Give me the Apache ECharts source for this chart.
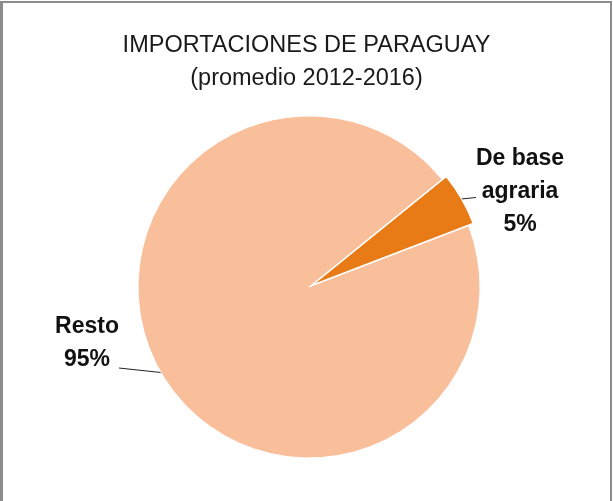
<!DOCTYPE html>
<html lang="es">
<head>
    <meta charset="UTF-8">
    <title>Importaciones de Paraguay</title>
    <script src="https://cdn.jsdelivr.net/npm/echarts@6/dist/echarts.min.js"></script>
    <style>
        body { margin: 0; background: #fff; }
        #frame {
            position: absolute;
            left: 0; top: 1px;
            width: 612px; height: 520px;
            border: 2px solid #8c8c8c;
            border-left-width: 3px;
            box-sizing: border-box;
        }
        #chart-container {
            position: absolute;
            left: 0; top: 0;
            width: 613px; height: 501px;
        }
    </style>
</head>
<body>
    <div id="frame"></div>
    <div id="chart-container"></div>

    <script>
        // datos
        var categorias = ['De base agraria', 'Resto'];
        var etiquetas = ['De base\nagraria', 'Resto'];
        var valores = [5, 95];
        var colores = ['#e97b17', '#f9be9a'];

        var myChart = echarts.init(document.getElementById('chart-container'));

        var centro = [309, 287];
        var inicio = 39;
        // porción separada: desplazada 5px según su ángulo medio
        var angMedio = (inicio - valores[0] / 100 * 360 / 2) * Math.PI / 180;
        var centroSep = [centro[0] + 5 * Math.cos(angMedio), centro[1] - 5 * Math.sin(angMedio)];

        var estiloEtiqueta = {
            show: true,
            formatter: function (p) {
                return etiquetas[p.dataIndex] + '\n' + p.percent.toFixed(0) + '%';
            },
            fontFamily: 'Liberation Sans',
            fontSize: 23,
            fontWeight: 'bold',
            color: '#111',
            lineHeight: 33,
            align: 'center'
        };

        // serie: visible = índice del trozo que dibuja
        function serie(visible, c, layout, padding) {
            return {
                type: 'pie',
                center: c,
                radius: 171,
                startAngle: inicio,
                silent: true,
                itemStyle: { borderColor: '#fff', borderWidth: 1 },
                labelLine: {
                    length: 1,
                    length2: 0,
                    lineStyle: { color: '#222', width: 1 }
                },
                labelLayout: layout,
                data: categorias.map(function (nombre, i) {
                    var ver = i === visible;
                    return {
                        name: nombre,
                        value: valores[i],
                        itemStyle: ver ? { color: colores[i] } : { color: 'rgba(0,0,0,0)', borderWidth: 0 },
                        label: ver ? Object.assign({}, estiloEtiqueta, { padding: padding }) : { show: false },
                        labelLine: { show: ver }
                    };
                })
            };
        }

        var option = {
            animation: false,
            title: {
                text: 'IMPORTACIONES DE PARAGUAY\n(promedio 2012-2016)',
                left: 'center',
                top: 24,
                textStyle: {
                    fontFamily: 'Liberation Sans',
                    fontSize: 23.5,
                    fontWeight: 'normal',
                    color: '#1a1a1a',
                    lineHeight: 33
                }
            },
            series: [
                serie(1, centro, function () {
                    return { x: 87, y: 310, align: 'center', verticalAlign: 'top' };
                }, [0, 0, 50, 0]),
                serie(0, centroSep, function () {
                    return { x: 520, y: 142, align: 'center', verticalAlign: 'top' };
                }, [0, 0, 12, 0])
            ]
        };

        myChart.setOption(option);
    </script>
</body>
</html>
